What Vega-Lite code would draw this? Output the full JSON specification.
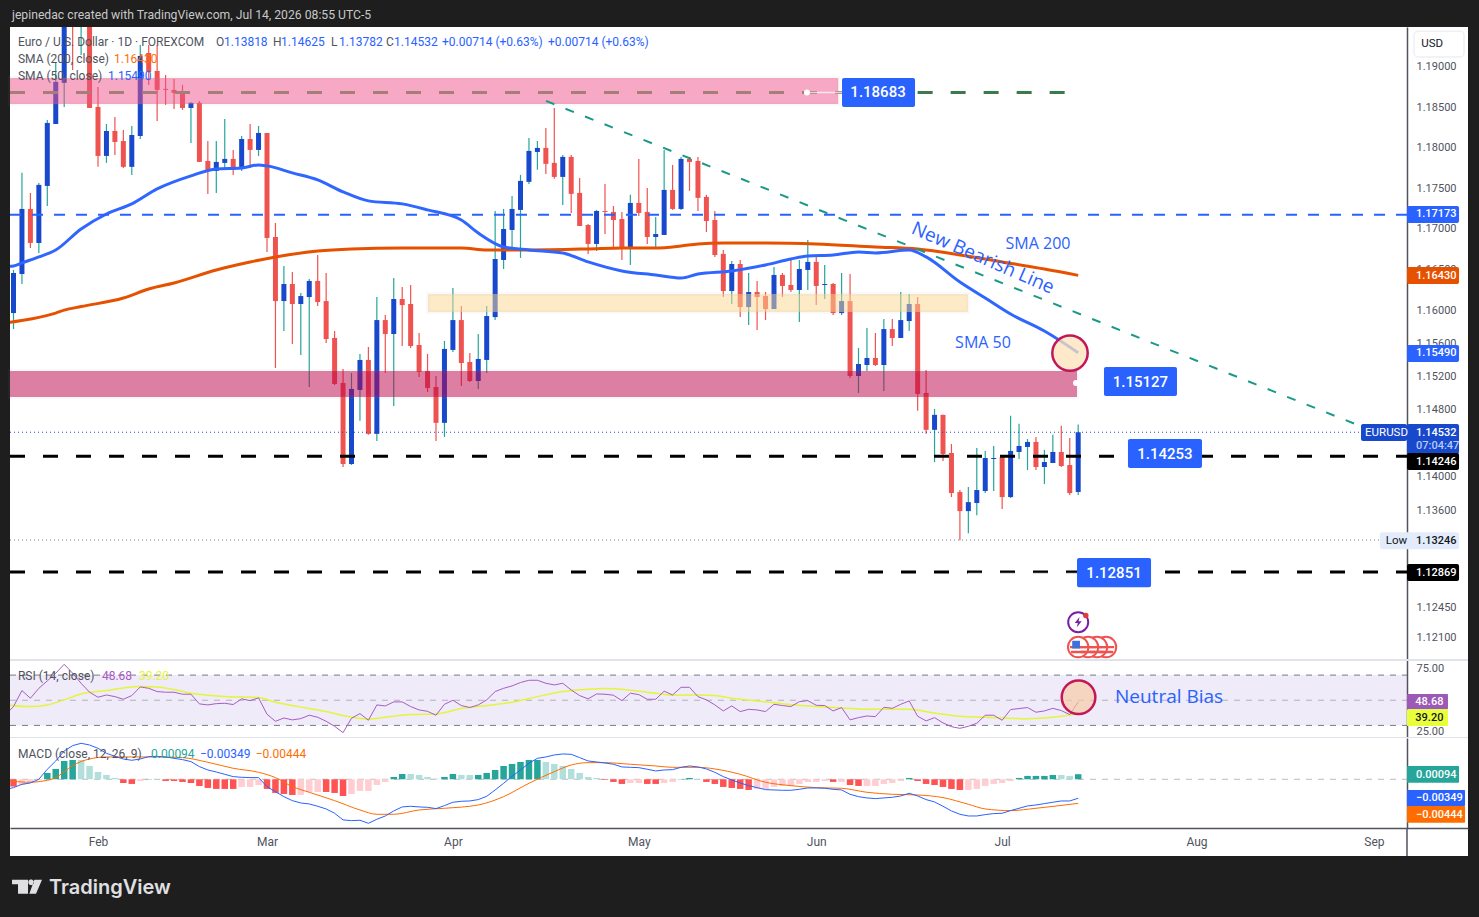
{
"$schema":"https://vega.github.io/schema/vega-lite/v6.json",
"background":"#1e1e1e",
"padding":{"left":8,"top":0,"right":13,"bottom":0},
"spacing":0,
"bounds":"flush",
"config":{"view":{"stroke":null},"concat":{"spacing":0},"text":{"font":"Roboto"}},
"datasets":{
"candles":[
{"bar":-10,"open":1.15971,"high":1.16496,"low":1.15777,"close":1.16459,"dir":"up"},
{"bar":-9,"open":1.16447,"high":1.17687,"low":1.16325,"close":1.17243,"dir":"up"},
{"bar":-8,"open":1.17243,"high":1.1744,"low":1.16765,"close":1.16826,"dir":"down"},
{"bar":-7,"open":1.16826,"high":1.17563,"low":1.16704,"close":1.17539,"dir":"up"},
{"bar":-6,"open":1.17526,"high":1.18341,"low":1.1728,"close":1.18304,"dir":"up"},
{"bar":-5,"open":1.18291,"high":1.1905,"low":1.18291,"close":1.18814,"dir":"up"},
{"bar":-4,"open":1.18801,"high":1.197,"low":1.18503,"close":1.19584,"dir":"up"},
{"bar":-3,"open":1.2,"high":1.2005,"low":1.18963,"close":1.196,"dir":"down"},
{"bar":-2,"open":1.196,"high":1.202,"low":1.19149,"close":1.2,"dir":"up"},
{"bar":-1,"open":1.2,"high":1.201,"low":1.1849,"close":1.1849,"dir":"down"},
{"bar":0,"open":1.18503,"high":1.18751,"low":1.17761,"close":1.17896,"dir":"down"},
{"bar":1,"open":1.17896,"high":1.18291,"low":1.1781,"close":1.18204,"dir":"up"},
{"bar":2,"open":1.18204,"high":1.18378,"low":1.17908,"close":1.18068,"dir":"down"},
{"bar":3,"open":1.1808,"high":1.18217,"low":1.17748,"close":1.17761,"dir":"down"},
{"bar":4,"open":1.17761,"high":1.18267,"low":1.17662,"close":1.18155,"dir":"up"},
{"bar":5,"open":1.18142,"high":1.19273,"low":1.18105,"close":1.19137,"dir":"up"},
{"bar":6,"open":1.19174,"high":1.19273,"low":1.18776,"close":1.18938,"dir":"down"},
{"bar":7,"open":1.1895,"high":1.19273,"low":1.18329,"close":1.18714,"dir":"down"},
{"bar":8,"open":1.18727,"high":1.18901,"low":1.18528,"close":1.18714,"dir":"down"},
{"bar":9,"open":1.18714,"high":1.18851,"low":1.18478,"close":1.18677,"dir":"down"},
{"bar":10,"open":1.18677,"high":1.18776,"low":1.18466,"close":1.1849,"dir":"down"},
{"bar":11,"open":1.1849,"high":1.18565,"low":1.18055,"close":1.18553,"dir":"up"},
{"bar":12,"open":1.18553,"high":1.18577,"low":1.17822,"close":1.17822,"dir":"down"},
{"bar":13,"open":1.17834,"high":1.1808,"low":1.17428,"close":1.17711,"dir":"down"},
{"bar":14,"open":1.17711,"high":1.1808,"low":1.1744,"close":1.17822,"dir":"up"},
{"bar":15,"open":1.1781,"high":1.18354,"low":1.17724,"close":1.17859,"dir":"up"},
{"bar":16,"open":1.17859,"high":1.1797,"low":1.17662,"close":1.17736,"dir":"down"},
{"bar":17,"open":1.17736,"high":1.18142,"low":1.17711,"close":1.18105,"dir":"up"},
{"bar":18,"open":1.18105,"high":1.18291,"low":1.17748,"close":1.1797,"dir":"down"},
{"bar":19,"open":1.1797,"high":1.18267,"low":1.17896,"close":1.1818,"dir":"up"},
{"bar":20,"open":1.1818,"high":1.1818,"low":1.16716,"close":1.16887,"dir":"down"},
{"bar":21,"open":1.16899,"high":1.17071,"low":1.15306,"close":1.16117,"dir":"down"},
{"bar":22,"open":1.16117,"high":1.16545,"low":1.15753,"close":1.16325,"dir":"up"},
{"bar":23,"open":1.16325,"high":1.16472,"low":1.15596,"close":1.16081,"dir":"down"},
{"bar":24,"open":1.16081,"high":1.16215,"low":1.15463,"close":1.16178,"dir":"up"},
{"bar":25,"open":1.16166,"high":1.16386,"low":1.15077,"close":1.16362,"dir":"up"},
{"bar":26,"open":1.16362,"high":1.16679,"low":1.16056,"close":1.16105,"dir":"down"},
{"bar":27,"open":1.16117,"high":1.16459,"low":1.15608,"close":1.15656,"dir":"down"},
{"bar":28,"open":1.15669,"high":1.15753,"low":1.15101,"close":1.15113,"dir":"down"},
{"bar":29,"open":1.15125,"high":1.15294,"low":1.14116,"close":1.14152,"dir":"down"},
{"bar":30,"open":1.14152,"high":1.15245,"low":1.1414,"close":1.15053,"dir":"up"},
{"bar":31,"open":1.15041,"high":1.15475,"low":1.14669,"close":1.15403,"dir":"up"},
{"bar":32,"open":1.15403,"high":1.1556,"low":1.14501,"close":1.14513,"dir":"down"},
{"bar":33,"open":1.14513,"high":1.16166,"low":1.14428,"close":1.15886,"dir":"up"},
{"bar":34,"open":1.15886,"high":1.15947,"low":1.15245,"close":1.15717,"dir":"down"},
{"bar":35,"open":1.15717,"high":1.16398,"low":1.14849,"close":1.16142,"dir":"up"},
{"bar":36,"open":1.16142,"high":1.16288,"low":1.15572,"close":1.16068,"dir":"down"},
{"bar":37,"open":1.16081,"high":1.16313,"low":1.15548,"close":1.15572,"dir":"down"},
{"bar":38,"open":1.15584,"high":1.15729,"low":1.15197,"close":1.15258,"dir":"down"},
{"bar":39,"open":1.1527,"high":1.15475,"low":1.15017,"close":1.15065,"dir":"down"},
{"bar":40,"open":1.15077,"high":1.15209,"low":1.14428,"close":1.14645,"dir":"down"},
{"bar":41,"open":1.14645,"high":1.15632,"low":1.14476,"close":1.15536,"dir":"up"},
{"bar":42,"open":1.15524,"high":1.16276,"low":1.15499,"close":1.15886,"dir":"up"},
{"bar":43,"open":1.15886,"high":1.16056,"low":1.15089,"close":1.15366,"dir":"down"},
{"bar":44,"open":1.15378,"high":1.15487,"low":1.15137,"close":1.15149,"dir":"down"},
{"bar":45,"open":1.15149,"high":1.15717,"low":1.15053,"close":1.15415,"dir":"up"},
{"bar":46,"open":1.15403,"high":1.16056,"low":1.15245,"close":1.15935,"dir":"up"},
{"bar":47,"open":1.15922,"high":1.17218,"low":1.15886,"close":1.1663,"dir":"up"},
{"bar":48,"open":1.16618,"high":1.17243,"low":1.16508,"close":1.16997,"dir":"up"},
{"bar":49,"open":1.16985,"high":1.17403,"low":1.16777,"close":1.17243,"dir":"up"},
{"bar":50,"open":1.17231,"high":1.17662,"low":1.16643,"close":1.17588,"dir":"up"},
{"bar":51,"open":1.17576,"high":1.18117,"low":1.17551,"close":1.17958,"dir":"up"},
{"bar":52,"open":1.17945,"high":1.1808,"low":1.17724,"close":1.17995,"dir":"up"},
{"bar":53,"open":1.17995,"high":1.18242,"low":1.17674,"close":1.17798,"dir":"down"},
{"bar":54,"open":1.1781,"high":1.1849,"low":1.17613,"close":1.17637,"dir":"down"},
{"bar":55,"open":1.17637,"high":1.17908,"low":1.17292,"close":1.17884,"dir":"up"},
{"bar":56,"open":1.17884,"high":1.17908,"low":1.17194,"close":1.17428,"dir":"down"},
{"bar":57,"open":1.1744,"high":1.17625,"low":1.17034,"close":1.17034,"dir":"down"},
{"bar":58,"open":1.17046,"high":1.17058,"low":1.16692,"close":1.16814,"dir":"down"},
{"bar":59,"open":1.16814,"high":1.17231,"low":1.16728,"close":1.17218,"dir":"up"},
{"bar":60,"open":1.17218,"high":1.17551,"low":1.16936,"close":1.17206,"dir":"down"},
{"bar":61,"open":1.17206,"high":1.1728,"low":1.16777,"close":1.17107,"dir":"down"},
{"bar":62,"open":1.1712,"high":1.17206,"low":1.16618,"close":1.16777,"dir":"down"},
{"bar":63,"open":1.16777,"high":1.17416,"low":1.16557,"close":1.17317,"dir":"up"},
{"bar":64,"open":1.17317,"high":1.17859,"low":1.17157,"close":1.17194,"dir":"down"},
{"bar":65,"open":1.17206,"high":1.17502,"low":1.16814,"close":1.16899,"dir":"down"},
{"bar":66,"open":1.16899,"high":1.17144,"low":1.16777,"close":1.16936,"dir":"up"},
{"bar":67,"open":1.16924,"high":1.1797,"low":1.16924,"close":1.17477,"dir":"up"},
{"bar":68,"open":1.17477,"high":1.17785,"low":1.17231,"close":1.17243,"dir":"down"},
{"bar":69,"open":1.17243,"high":1.17884,"low":1.17231,"close":1.17859,"dir":"up"},
{"bar":70,"open":1.17859,"high":1.17884,"low":1.17465,"close":1.17822,"dir":"down"},
{"bar":71,"open":1.17834,"high":1.17884,"low":1.17218,"close":1.17379,"dir":"down"},
{"bar":72,"open":1.17391,"high":1.17416,"low":1.1696,"close":1.17095,"dir":"down"},
{"bar":73,"open":1.17107,"high":1.17218,"low":1.16655,"close":1.16679,"dir":"down"},
{"bar":74,"open":1.16692,"high":1.1674,"low":1.16166,"close":1.16239,"dir":"down"},
{"bar":75,"open":1.16239,"high":1.16606,"low":1.16081,"close":1.16569,"dir":"up"},
{"bar":76,"open":1.16569,"high":1.16618,"low":1.15922,"close":1.16044,"dir":"down"},
{"bar":77,"open":1.16044,"high":1.16459,"low":1.15826,"close":1.16227,"dir":"up"},
{"bar":78,"open":1.16227,"high":1.16362,"low":1.15765,"close":1.16166,"dir":"down"},
{"bar":79,"open":1.16178,"high":1.16227,"low":1.15886,"close":1.1602,"dir":"down"},
{"bar":80,"open":1.1602,"high":1.16533,"low":1.1602,"close":1.16435,"dir":"up"},
{"bar":81,"open":1.16435,"high":1.16459,"low":1.16166,"close":1.16301,"dir":"down"},
{"bar":82,"open":1.16313,"high":1.16618,"low":1.16227,"close":1.16252,"dir":"down"},
{"bar":83,"open":1.16252,"high":1.16618,"low":1.15862,"close":1.16508,"dir":"up"},
{"bar":84,"open":1.16496,"high":1.16863,"low":1.16252,"close":1.16594,"dir":"up"},
{"bar":85,"open":1.16594,"high":1.16655,"low":1.16068,"close":1.16301,"dir":"down"},
{"bar":86,"open":1.16313,"high":1.16557,"low":1.16142,"close":1.16325,"dir":"up"},
{"bar":87,"open":1.16325,"high":1.16337,"low":1.15947,"close":1.15971,"dir":"down"},
{"bar":88,"open":1.15971,"high":1.16459,"low":1.15947,"close":1.16117,"dir":"up"},
{"bar":89,"open":1.16117,"high":1.16447,"low":1.15185,"close":1.15209,"dir":"down"},
{"bar":90,"open":1.15209,"high":1.15548,"low":1.15005,"close":1.15354,"dir":"up"},
{"bar":91,"open":1.15342,"high":1.15789,"low":1.1527,"close":1.15427,"dir":"up"},
{"bar":92,"open":1.15427,"high":1.15729,"low":1.1533,"close":1.15342,"dir":"down"},
{"bar":93,"open":1.15342,"high":1.15898,"low":1.15029,"close":1.15777,"dir":"up"},
{"bar":94,"open":1.15777,"high":1.15898,"low":1.15572,"close":1.15669,"dir":"down"},
{"bar":95,"open":1.15669,"high":1.16227,"low":1.15669,"close":1.15886,"dir":"up"},
{"bar":96,"open":1.15874,"high":1.16203,"low":1.15753,"close":1.16081,"dir":"up"},
{"bar":97,"open":1.16081,"high":1.16166,"low":1.14789,"close":1.14993,"dir":"down"},
{"bar":98,"open":1.15005,"high":1.15282,"low":1.14513,"close":1.14561,"dir":"down"},
{"bar":99,"open":1.14561,"high":1.14813,"low":1.14176,"close":1.14741,"dir":"up"},
{"bar":100,"open":1.14741,"high":1.14741,"low":1.14188,"close":1.14272,"dir":"down"},
{"bar":101,"open":1.14284,"high":1.14392,"low":1.13757,"close":1.13805,"dir":"down"},
{"bar":102,"open":1.13817,"high":1.13841,"low":1.13244,"close":1.1359,"dir":"down"},
{"bar":103,"open":1.1359,"high":1.13877,"low":1.13327,"close":1.13697,"dir":"up"},
{"bar":104,"open":1.13686,"high":1.14344,"low":1.13542,"close":1.13841,"dir":"up"},
{"bar":105,"open":1.13829,"high":1.14308,"low":1.13805,"close":1.14224,"dir":"up"},
{"bar":106,"open":1.14212,"high":1.14368,"low":1.13829,"close":1.14224,"dir":"up"},
{"bar":107,"open":1.14236,"high":1.14248,"low":1.13614,"close":1.13757,"dir":"down"},
{"bar":108,"open":1.13757,"high":1.14729,"low":1.13745,"close":1.14308,"dir":"up"},
{"bar":109,"open":1.14296,"high":1.14633,"low":1.14212,"close":1.14368,"dir":"up"},
{"bar":110,"open":1.14356,"high":1.14452,"low":1.1408,"close":1.14416,"dir":"up"},
{"bar":111,"open":1.14416,"high":1.14476,"low":1.1408,"close":1.14116,"dir":"down"},
{"bar":112,"open":1.14116,"high":1.1432,"low":1.13912,"close":1.14176,"dir":"up"},
{"bar":113,"open":1.14164,"high":1.14501,"low":1.14164,"close":1.14296,"dir":"up"},
{"bar":114,"open":1.14296,"high":1.14609,"low":1.14116,"close":1.14128,"dir":"down"},
{"bar":115,"open":1.1414,"high":1.14464,"low":1.13781,"close":1.13805,"dir":"down"},
{"bar":116,"open":1.13818,"high":1.14625,"low":1.13782,"close":1.14532,"dir":"up"}
],
"sma50":[{"bar":-11,"price":1.16539},{"bar":-10,"price":1.16545},{"bar":-9,"price":1.16582},{"bar":-7,"price":1.16655},{"bar":-5,"price":1.1674},{"bar":-2,"price":1.16997},{"bar":1,"price":1.17181},{"bar":4,"price":1.17305},{"bar":7,"price":1.17489},{"bar":11,"price":1.1765},{"bar":14,"price":1.17736},{"bar":17,"price":1.17748},{"bar":19,"price":1.17785},{"bar":20,"price":1.17773},{"bar":23,"price":1.17687},{"bar":26,"price":1.176},{"bar":29,"price":1.17453},{"bar":32,"price":1.17342},{"bar":36,"price":1.17305},{"bar":39,"price":1.17231},{"bar":43,"price":1.17107},{"bar":45,"price":1.16948},{"bar":48,"price":1.16777},{"bar":51,"price":1.1674},{"bar":55,"price":1.16704},{"bar":58,"price":1.16594},{"bar":62,"price":1.16484},{"bar":66,"price":1.16435},{"bar":69,"price":1.16398},{"bar":71,"price":1.16447},{"bar":75,"price":1.16484},{"bar":79,"price":1.16557},{"bar":82,"price":1.1663},{"bar":84,"price":1.16667},{"bar":87,"price":1.16679},{"bar":90,"price":1.16716},{"bar":92,"price":1.16704},{"bar":96,"price":1.1674},{"bar":98,"price":1.16655},{"bar":102,"price":1.16349},{"bar":105,"price":1.16154},{"bar":108,"price":1.15959},{"bar":112,"price":1.15753},{"bar":116,"price":1.1549}],
"sma200":[{"bar":-11,"price":1.1585},{"bar":-8,"price":1.15898},{"bar":-5,"price":1.15971},{"bar":-4,"price":1.16007},{"bar":-2,"price":1.1605},{"bar":3,"price":1.16154},{"bar":6,"price":1.16264},{"bar":9,"price":1.16337},{"bar":14,"price":1.16496},{"bar":18,"price":1.16594},{"bar":21,"price":1.16655},{"bar":26,"price":1.16728},{"bar":30,"price":1.16753},{"bar":36,"price":1.16765},{"bar":43,"price":1.16765},{"bar":46,"price":1.1674},{"bar":51,"price":1.1674},{"bar":58,"price":1.16753},{"bar":62,"price":1.16765},{"bar":66,"price":1.16765},{"bar":69,"price":1.16789},{"bar":71,"price":1.16814},{"bar":74,"price":1.16826},{"bar":79,"price":1.16826},{"bar":85,"price":1.16814},{"bar":92,"price":1.16777},{"bar":97,"price":1.16753},{"bar":102,"price":1.16679},{"bar":107,"price":1.16594},{"bar":112,"price":1.16508},{"bar":116,"price":1.1643}],
"zones":[
{"bar":-10.414,"bar2":87.6,"price":1.18863,"price2":1.18539,"zone":"supply"},
{"bar":39.05,"bar2":102.96,"price":1.16202,"price2":1.15983,"zone":"pivot"},
{"bar":-10.414,"bar2":115.86,"price":1.15268,"price2":1.14955,"zone":"support"}
],
"tags":[
{"bar":154.91,"bar2":161.07,"price":1.17279,"price2":1.1707,"series":"level"},
{"bar":154.91,"bar2":161.07,"price":1.16532,"price2":1.16325,"series":"sma200"},
{"bar":154.91,"bar2":161.07,"price":1.15584,"price2":1.15378,"series":"level"},
{"bar":154.91,"bar2":161.07,"price":1.1463,"price2":1.14272,"series":"last"},
{"bar":149.47,"bar2":154.91,"price":1.1463,"price2":1.14426,"series":"last"},
{"bar":154.91,"bar2":161.07,"price":1.14283,"price2":1.14079,"series":"black"},
{"bar":151.72,"bar2":161.07,"price":1.1334,"price2":1.13138,"series":"low"},
{"bar":154.91,"bar2":161.07,"price":1.12961,"price2":1.12761,"series":"black"},
{"bar":88.05,"bar2":96.69,"price":1.18863,"price2":1.18503,"series":"level"},
{"bar":119.05,"bar2":127.69,"price":1.15317,"price2":1.14967,"series":"level"},
{"bar":121.89,"bar2":130.65,"price":1.14451,"price2":1.14103,"series":"level"},
{"bar":115.86,"bar2":124.62,"price":1.13032,"price2":1.12688,"series":"level"}
],
"tagText":[
{"bar":155.98,"price":1.17181,"label":"1.17173","tone":"white"},
{"bar":155.98,"price":1.16428,"label":"1.16430","tone":"white"},
{"bar":155.98,"price":1.15487,"label":"1.15490","tone":"white"},
{"bar":155.98,"price":1.14525,"label":"1.14532","tone":"white"},
{"bar":155.98,"price":1.14367,"label":"07:04:47","tone":"pale"},
{"bar":155.98,"price":1.1418,"label":"1.14246","tone":"white"},
{"bar":155.98,"price":1.1324,"label":"1.13246","tone":"dark"},
{"bar":155.98,"price":1.1286,"label":"1.12869","tone":"white"}
],
"plainTagText":[
{"bar":149.95,"price":1.14525,"label":"EURUSD","tone":"white"},
{"bar":152.4,"price":1.1324,"label":"Low","tone":"dark"},
{"bar":156.6,"price":1.19286,"label":"USD","tone":"dark"}
],
"callouts":[
{"bar":92.31,"price":1.18682,"label":"1.18683"},
{"bar":123.37,"price":1.15142,"label":"1.15127"},
{"bar":126.27,"price":1.14277,"label":"1.14253"},
{"bar":120.24,"price":1.1286,"label":"1.12851"}
],
"legendText":[
{"bar":-9.47,"price":1.19312,"label":"Euro / U.S. Dollar · 1D · FOREXCOM","series":"gray"},
{"bar":13.96,"price":1.19312,"label":"O","series":"gray"},
{"bar":14.91,"price":1.19312,"label":"1.13818","series":"blue"},
{"bar":20.71,"price":1.19312,"label":"H","series":"gray"},
{"bar":21.66,"price":1.19312,"label":"1.14625","series":"blue"},
{"bar":27.57,"price":1.19312,"label":"L","series":"gray"},
{"bar":28.52,"price":1.19312,"label":"1.13782","series":"blue"},
{"bar":34.08,"price":1.19312,"label":"C","series":"gray"},
{"bar":35.03,"price":1.19312,"label":"1.14532","series":"blue"},
{"bar":40.71,"price":1.19312,"label":"+0.00714 (+0.63%)","series":"blue"},
{"bar":53.25,"price":1.19312,"label":"+0.00714 (+0.63%)","series":"blue"},
{"bar":-9.47,"price":1.191,"label":"SMA (200, close)","series":"gray"},
{"bar":1.89,"price":1.191,"label":"1.16430","series":"orange"},
{"bar":-9.47,"price":1.18888,"label":"SMA (50, close)","series":"gray"},
{"bar":1.18,"price":1.18888,"label":"1.15490","series":"blue"}
],
"notes":[
{"bar":111.24,"price":1.16813,"label":"SMA 200"},
{"bar":104.73,"price":1.15607,"label":"SMA 50"}
],
"rsi":[{"bar":-11,"rsi":38},{"bar":-10,"rsi":45},{"bar":-9,"rsi":57.7},{"bar":-8,"rsi":51.6},{"bar":-7,"rsi":59.5},{"bar":-6,"rsi":65.4},{"bar":-5,"rsi":71.5},{"bar":-4,"rsi":78.6},{"bar":-3,"rsi":71.5},{"bar":-2,"rsi":63.5},{"bar":-1,"rsi":56.4},{"bar":0,"rsi":52.4},{"bar":1,"rsi":54.2},{"bar":2,"rsi":52.9},{"bar":3,"rsi":50.8},{"bar":4,"rsi":53.7},{"bar":5,"rsi":60.6},{"bar":6,"rsi":59.5},{"bar":7,"rsi":56.9},{"bar":8,"rsi":56.4},{"bar":9,"rsi":56.4},{"bar":10,"rsi":54.8},{"bar":11,"rsi":54.8},{"bar":12,"rsi":47.1},{"bar":13,"rsi":46.3},{"bar":14,"rsi":47.3},{"bar":15,"rsi":47.6},{"bar":16,"rsi":46.6},{"bar":17,"rsi":51.1},{"bar":18,"rsi":49.7},{"bar":19,"rsi":51.9},{"bar":20,"rsi":38.9},{"bar":21,"rsi":33.3},{"bar":22,"rsi":35.9},{"bar":23,"rsi":34.4},{"bar":24,"rsi":35.4},{"bar":25,"rsi":38.1},{"bar":26,"rsi":36.5},{"bar":27,"rsi":33.3},{"bar":28,"rsi":29.3},{"bar":29,"rsi":24.3},{"bar":30,"rsi":35.7},{"bar":31,"rsi":39.4},{"bar":32,"rsi":34.1},{"bar":33,"rsi":46.3},{"bar":34,"rsi":45.5},{"bar":35,"rsi":48.7},{"bar":36,"rsi":48.7},{"bar":37,"rsi":45},{"bar":38,"rsi":42.3},{"bar":39,"rsi":41.2},{"bar":40,"rsi":38.1},{"bar":41,"rsi":46.8},{"bar":42,"rsi":50},{"bar":43,"rsi":45.8},{"bar":44,"rsi":44.2},{"bar":45,"rsi":46.3},{"bar":46,"rsi":50.3},{"bar":47,"rsi":56.9},{"bar":48,"rsi":59.5},{"bar":49,"rsi":61.4},{"bar":50,"rsi":64.1},{"bar":51,"rsi":65.9},{"bar":52,"rsi":65.9},{"bar":53,"rsi":63.5},{"bar":54,"rsi":62.2},{"bar":55,"rsi":63.5},{"bar":56,"rsi":58.2},{"bar":57,"rsi":53.7},{"bar":58,"rsi":51.1},{"bar":59,"rsi":55},{"bar":60,"rsi":54.8},{"bar":61,"rsi":54},{"bar":62,"rsi":49.7},{"bar":63,"rsi":55.6},{"bar":64,"rsi":54.5},{"bar":65,"rsi":50.8},{"bar":66,"rsi":50.8},{"bar":67,"rsi":57.2},{"bar":68,"rsi":54.2},{"bar":69,"rsi":60.3},{"bar":70,"rsi":60.3},{"bar":71,"rsi":52.9},{"bar":72,"rsi":50.3},{"bar":73,"rsi":46.3},{"bar":74,"rsi":41.5},{"bar":75,"rsi":45.5},{"bar":76,"rsi":41},{"bar":77,"rsi":42.8},{"bar":78,"rsi":42.3},{"bar":79,"rsi":41},{"bar":80,"rsi":46.8},{"bar":81,"rsi":45.8},{"bar":82,"rsi":45},{"bar":83,"rsi":48.9},{"bar":84,"rsi":49.7},{"bar":85,"rsi":46},{"bar":86,"rsi":45.8},{"bar":87,"rsi":41.5},{"bar":88,"rsi":44.2},{"bar":89,"rsi":34.4},{"bar":90,"rsi":36.2},{"bar":91,"rsi":37.5},{"bar":92,"rsi":37},{"bar":93,"rsi":44.4},{"bar":94,"rsi":43.6},{"bar":95,"rsi":46.8},{"bar":96,"rsi":49.5},{"bar":97,"rsi":37.3},{"bar":98,"rsi":33.6},{"bar":99,"rsi":36.2},{"bar":100,"rsi":32},{"bar":101,"rsi":29},{"bar":102,"rsi":27.7},{"bar":103,"rsi":29.3},{"bar":104,"rsi":31.7},{"bar":105,"rsi":38.1},{"bar":106,"rsi":38.1},{"bar":107,"rsi":34.1},{"bar":108,"rsi":42.6},{"bar":109,"rsi":43.4},{"bar":110,"rsi":44.2},{"bar":111,"rsi":40.5},{"bar":112,"rsi":41.5},{"bar":113,"rsi":43.6},{"bar":114,"rsi":41.8},{"bar":115,"rsi":38.6},{"bar":116,"rsi":48.68}],
"rsiMa":[{"bar":-11,"rsi":46.3},{"bar":-8,"rsi":45},{"bar":-6,"rsi":46.3},{"bar":-4,"rsi":50.3},{"bar":-2,"rsi":55},{"bar":1,"rsi":57.7},{"bar":3,"rsi":59.8},{"bar":5,"rsi":60.9},{"bar":7,"rsi":60.6},{"bar":9,"rsi":58.5},{"bar":11,"rsi":55.6},{"bar":13,"rsi":54},{"bar":15,"rsi":52.9},{"bar":19,"rsi":52.1},{"bar":21,"rsi":48.4},{"bar":23,"rsi":45.8},{"bar":25,"rsi":43.4},{"bar":27,"rsi":41},{"bar":29,"rsi":37.8},{"bar":32,"rsi":35.1},{"bar":34,"rsi":36.5},{"bar":37,"rsi":38.6},{"bar":40,"rsi":39.1},{"bar":43,"rsi":43.4},{"bar":46,"rsi":45.8},{"bar":49,"rsi":48.4},{"bar":52,"rsi":52.9},{"bar":55,"rsi":56.9},{"bar":58,"rsi":58.8},{"bar":60,"rsi":59.3},{"bar":63,"rsi":58},{"bar":66,"rsi":55.6},{"bar":68,"rsi":54},{"bar":71,"rsi":54.2},{"bar":73,"rsi":53.7},{"bar":75,"rsi":51.6},{"bar":78,"rsi":49.5},{"bar":81,"rsi":47.3},{"bar":85,"rsi":45},{"bar":88,"rsi":43.9},{"bar":91,"rsi":42.8},{"bar":96,"rsi":42.8},{"bar":99,"rsi":39.9},{"bar":102,"rsi":37.3},{"bar":105,"rsi":36.5},{"bar":110,"rsi":35.4},{"bar":113,"rsi":36.5},{"bar":116,"rsi":39.2}],
"rsiBands":[{"bar":-10.414,"bar2":154.91,"rsi":70,"rsi2":30}],
"rsiLevels":[{"bar":-10.414,"bar2":154.91,"rsi":70},{"bar":-10.414,"bar2":154.91,"rsi":30}],
"rsiMid":[{"bar":-10.414,"bar2":154.91,"rsi":50}],
"rsiEdges":[{"bar":-10.414,"bar2":162.13,"rsi":82},{"bar":-10.414,"bar2":162.13,"rsi":20}],
"rsiTags":[
{"bar":154.91,"bar2":159.76,"rsi":55,"rsi2":42.85,"series":"rsi"},
{"bar":154.91,"bar2":159.76,"rsi":42.85,"rsi2":29.6,"series":"ma"}
],
"rsiTagText":[
{"bar":155.9,"rsi":48.6,"label":"48.68","series":"rsi"},
{"bar":155.9,"rsi":36,"label":"39.20","series":"ma"}
],
"rsiText":[
{"bar":-9.47,"rsi":69.6,"label":"RSI (14, close)","series":"gray"},
{"bar":0.47,"rsi":69.6,"label":"48.68","series":"rsi"},
{"bar":4.84,"rsi":69.6,"label":"39.20","series":"ma"}
],
"macd":[
{"bar":-10,"hist":-0.00135,"state":"fallingBelow"},{"bar":-9,"hist":-0.00105,"state":"risingBelow"},{"bar":-8,"hist":-0.00055,"state":"risingBelow"},{"bar":-7,"hist":-0.00012,"state":"risingBelow"},{"bar":-6,"hist":0.00117,"state":"risingAbove"},{"bar":-5,"hist":0.00191,"state":"risingAbove"},{"bar":-4,"hist":0.00338,"state":"risingAbove"},{"bar":-3,"hist":0.00357,"state":"risingAbove"},{"bar":-2,"hist":0.00357,"state":"fallingAbove"},{"bar":-1,"hist":0.00246,"state":"fallingAbove"},{"bar":0,"hist":0.00135,"state":"fallingAbove"},{"bar":1,"hist":0.0008,"state":"fallingAbove"},{"bar":2,"hist":0.00025,"state":"fallingAbove"},{"bar":3,"hist":-0.00068,"state":"fallingBelow"},{"bar":4,"hist":-0.00086,"state":"fallingBelow"},{"bar":5,"hist":-0.00031,"state":"risingBelow"},{"bar":6,"hist":0.00006,"state":"risingAbove"},{"bar":7,"hist":0.00003,"state":"fallingAbove"},{"bar":8,"hist":-0.00031,"state":"fallingBelow"},{"bar":9,"hist":-0.00031,"state":"fallingBelow"},{"bar":10,"hist":-0.00049,"state":"fallingBelow"},{"bar":11,"hist":-0.00068,"state":"fallingBelow"},{"bar":12,"hist":-0.00123,"state":"fallingBelow"},{"bar":13,"hist":-0.0016,"state":"fallingBelow"},{"bar":14,"hist":-0.00178,"state":"fallingBelow"},{"bar":15,"hist":-0.00178,"state":"fallingBelow"},{"bar":16,"hist":-0.00178,"state":"fallingBelow"},{"bar":17,"hist":-0.00141,"state":"risingBelow"},{"bar":18,"hist":-0.00141,"state":"risingBelow"},{"bar":19,"hist":-0.00105,"state":"risingBelow"},{"bar":20,"hist":-0.00178,"state":"fallingBelow"},{"bar":21,"hist":-0.00252,"state":"fallingBelow"},{"bar":22,"hist":-0.00271,"state":"fallingBelow"},{"bar":23,"hist":-0.00289,"state":"fallingBelow"},{"bar":24,"hist":-0.00289,"state":"risingBelow"},{"bar":25,"hist":-0.00234,"state":"risingBelow"},{"bar":26,"hist":-0.00234,"state":"risingBelow"},{"bar":27,"hist":-0.00234,"state":"fallingBelow"},{"bar":28,"hist":-0.00252,"state":"fallingBelow"},{"bar":29,"hist":-0.00308,"state":"fallingBelow"},{"bar":30,"hist":-0.00271,"state":"risingBelow"},{"bar":31,"hist":-0.00215,"state":"risingBelow"},{"bar":32,"hist":-0.00215,"state":"risingBelow"},{"bar":33,"hist":-0.00105,"state":"risingBelow"},{"bar":34,"hist":-0.00049,"state":"risingBelow"},{"bar":35,"hist":0.00043,"state":"risingAbove"},{"bar":36,"hist":0.00098,"state":"risingAbove"},{"bar":37,"hist":0.00098,"state":"fallingAbove"},{"bar":38,"hist":0.0008,"state":"fallingAbove"},{"bar":39,"hist":0.00043,"state":"fallingAbove"},{"bar":40,"hist":0.00012,"state":"fallingAbove"},{"bar":41,"hist":0.00043,"state":"risingAbove"},{"bar":42,"hist":0.00098,"state":"risingAbove"},{"bar":43,"hist":0.0008,"state":"fallingAbove"},{"bar":44,"hist":0.0008,"state":"fallingAbove"},{"bar":45,"hist":0.0008,"state":"risingAbove"},{"bar":46,"hist":0.00117,"state":"risingAbove"},{"bar":47,"hist":0.00172,"state":"risingAbove"},{"bar":48,"hist":0.00246,"state":"risingAbove"},{"bar":49,"hist":0.00283,"state":"risingAbove"},{"bar":50,"hist":0.0032,"state":"risingAbove"},{"bar":51,"hist":0.00357,"state":"risingAbove"},{"bar":52,"hist":0.00357,"state":"risingAbove"},{"bar":53,"hist":0.0032,"state":"fallingAbove"},{"bar":54,"hist":0.00283,"state":"fallingAbove"},{"bar":55,"hist":0.00246,"state":"fallingAbove"},{"bar":56,"hist":0.00191,"state":"fallingAbove"},{"bar":57,"hist":0.00117,"state":"fallingAbove"},{"bar":58,"hist":0.00043,"state":"fallingAbove"},{"bar":59,"hist":0.00025,"state":"fallingAbove"},{"bar":60,"hist":-0.00012,"state":"fallingBelow"},{"bar":61,"hist":-0.00049,"state":"fallingBelow"},{"bar":62,"hist":-0.00086,"state":"fallingBelow"},{"bar":63,"hist":-0.00068,"state":"risingBelow"},{"bar":64,"hist":-0.00068,"state":"risingBelow"},{"bar":65,"hist":-0.00086,"state":"fallingBelow"},{"bar":66,"hist":-0.00086,"state":"fallingBelow"},{"bar":67,"hist":-0.00068,"state":"risingBelow"},{"bar":68,"hist":-0.00049,"state":"risingBelow"},{"bar":69,"hist":0.00006,"state":"risingAbove"},{"bar":70,"hist":0.00025,"state":"risingAbove"},{"bar":71,"hist":0.00006,"state":"fallingAbove"},{"bar":72,"hist":-0.00049,"state":"fallingBelow"},{"bar":73,"hist":-0.00086,"state":"fallingBelow"},{"bar":74,"hist":-0.00141,"state":"fallingBelow"},{"bar":75,"hist":-0.0016,"state":"fallingBelow"},{"bar":76,"hist":-0.00178,"state":"fallingBelow"},{"bar":77,"hist":-0.00197,"state":"fallingBelow"},{"bar":78,"hist":-0.00178,"state":"risingBelow"},{"bar":79,"hist":-0.00178,"state":"risingBelow"},{"bar":80,"hist":-0.00141,"state":"risingBelow"},{"bar":81,"hist":-0.00123,"state":"risingBelow"},{"bar":82,"hist":-0.00123,"state":"risingBelow"},{"bar":83,"hist":-0.00086,"state":"risingBelow"},{"bar":84,"hist":-0.00049,"state":"risingBelow"},{"bar":85,"hist":-0.00049,"state":"risingBelow"},{"bar":86,"hist":-0.00031,"state":"risingBelow"},{"bar":87,"hist":-0.00049,"state":"fallingBelow"},{"bar":88,"hist":-0.00049,"state":"risingBelow"},{"bar":89,"hist":-0.00105,"state":"fallingBelow"},{"bar":90,"hist":-0.00123,"state":"fallingBelow"},{"bar":91,"hist":-0.00123,"state":"risingBelow"},{"bar":92,"hist":-0.00123,"state":"risingBelow"},{"bar":93,"hist":-0.00086,"state":"risingBelow"},{"bar":94,"hist":-0.00068,"state":"risingBelow"},{"bar":95,"hist":-0.00031,"state":"risingBelow"},{"bar":96,"hist":0.00025,"state":"risingAbove"},{"bar":97,"hist":-0.00031,"state":"fallingBelow"},{"bar":98,"hist":-0.00086,"state":"fallingBelow"},{"bar":99,"hist":-0.00105,"state":"fallingBelow"},{"bar":100,"hist":-0.00141,"state":"fallingBelow"},{"bar":101,"hist":-0.00178,"state":"fallingBelow"},{"bar":102,"hist":-0.00197,"state":"fallingBelow"},{"bar":103,"hist":-0.00197,"state":"risingBelow"},{"bar":104,"hist":-0.00178,"state":"risingBelow"},{"bar":105,"hist":-0.00123,"state":"risingBelow"},{"bar":106,"hist":-0.00086,"state":"risingBelow"},{"bar":107,"hist":-0.00068,"state":"risingBelow"},{"bar":108,"hist":-0.00031,"state":"risingBelow"},{"bar":109,"hist":0.00025,"state":"risingAbove"},{"bar":110,"hist":0.00062,"state":"risingAbove"},{"bar":111,"hist":0.00062,"state":"risingAbove"},{"bar":112,"hist":0.00062,"state":"risingAbove"},{"bar":113,"hist":0.0008,"state":"risingAbove"},{"bar":114,"hist":0.0008,"state":"fallingAbove"},{"bar":115,"hist":0.00062,"state":"fallingAbove"},{"bar":116,"hist":0.00094,"state":"risingAbove"}
],
"macdLine":[{"bar":-11,"macd":-0.00191},{"bar":-10,"macd":-0.00154},{"bar":-9,"macd":-0.00092},{"bar":-8,"macd":-0.00068},{"bar":-7,"macd":0},{"bar":-6,"macd":0.00185},{"bar":-5,"macd":0.00338},{"bar":-4,"macd":0.00523},{"bar":-3,"macd":0.00621},{"bar":-2,"macd":0.00664},{"bar":-1,"macd":0.00633},{"bar":0,"macd":0.00572},{"bar":1,"macd":0.0048},{"bar":2,"macd":0.00424},{"bar":3,"macd":0.00375},{"bar":4,"macd":0.00351},{"bar":5,"macd":0.00375},{"bar":6,"macd":0.00418},{"bar":7,"macd":0.00424},{"bar":8,"macd":0.00412},{"bar":9,"macd":0.00387},{"bar":10,"macd":0.00363},{"bar":11,"macd":0.00326},{"bar":12,"macd":0.00234},{"bar":13,"macd":0.00172},{"bar":14,"macd":0.00135},{"bar":15,"macd":0.00092},{"bar":16,"macd":0.00049},{"bar":17,"macd":0.00037},{"bar":18,"macd":0.00031},{"bar":19,"macd":0.00031},{"bar":20,"macd":-0.00135},{"bar":21,"macd":-0.00228},{"bar":22,"macd":-0.0032},{"bar":23,"macd":-0.00394},{"bar":24,"macd":-0.00437},{"bar":25,"macd":-0.00455},{"bar":26,"macd":-0.00498},{"bar":27,"macd":-0.00547},{"bar":28,"macd":-0.00627},{"bar":29,"macd":-0.0075},{"bar":30,"macd":-0.00763},{"bar":31,"macd":-0.00756},{"bar":32,"macd":-0.00812},{"bar":33,"macd":-0.00738},{"bar":34,"macd":-0.00677},{"bar":35,"macd":-0.00584},{"bar":36,"macd":-0.0051},{"bar":37,"macd":-0.00498},{"bar":38,"macd":-0.0051},{"bar":39,"macd":-0.00517},{"bar":40,"macd":-0.00541},{"bar":41,"macd":-0.00486},{"bar":42,"macd":-0.00424},{"bar":43,"macd":-0.00406},{"bar":44,"macd":-0.004},{"bar":45,"macd":-0.00375},{"bar":46,"macd":-0.00314},{"bar":47,"macd":-0.00197},{"bar":48,"macd":-0.00074},{"bar":49,"macd":0.00055},{"bar":50,"macd":0.00172},{"bar":51,"macd":0.00295},{"bar":52,"macd":0.00387},{"bar":53,"macd":0.00412},{"bar":54,"macd":0.00449},{"bar":55,"macd":0.00467},{"bar":56,"macd":0.00461},{"bar":57,"macd":0.004},{"bar":58,"macd":0.00338},{"bar":59,"macd":0.0032},{"bar":60,"macd":0.00301},{"bar":61,"macd":0.00277},{"bar":62,"macd":0.00228},{"bar":63,"macd":0.00221},{"bar":64,"macd":0.00215},{"bar":65,"macd":0.00185},{"bar":66,"macd":0.00154},{"bar":67,"macd":0.00172},{"bar":68,"macd":0.00178},{"bar":69,"macd":0.00221},{"bar":70,"macd":0.00246},{"bar":71,"macd":0.00228},{"bar":72,"macd":0.00191},{"bar":73,"macd":0.00129},{"bar":74,"macd":0.00049},{"bar":75,"macd":-0.00012},{"bar":76,"macd":-0.00068},{"bar":77,"macd":-0.00117},{"bar":78,"macd":-0.00154},{"bar":79,"macd":-0.00191},{"bar":80,"macd":-0.00197},{"bar":81,"macd":-0.00203},{"bar":82,"macd":-0.00203},{"bar":83,"macd":-0.00185},{"bar":84,"macd":-0.0016},{"bar":85,"macd":-0.0016},{"bar":86,"macd":-0.00166},{"bar":87,"macd":-0.00185},{"bar":88,"macd":-0.00197},{"bar":89,"macd":-0.00277},{"bar":90,"macd":-0.0032},{"bar":91,"macd":-0.00344},{"bar":92,"macd":-0.00357},{"bar":93,"macd":-0.00344},{"bar":94,"macd":-0.00332},{"bar":95,"macd":-0.00308},{"bar":96,"macd":-0.00258},{"bar":97,"macd":-0.00308},{"bar":98,"macd":-0.00375},{"bar":99,"macd":-0.00418},{"bar":100,"macd":-0.00498},{"bar":101,"macd":-0.00584},{"bar":102,"macd":-0.00646},{"bar":103,"macd":-0.00677},{"bar":104,"macd":-0.00677},{"bar":105,"macd":-0.00652},{"bar":106,"macd":-0.00633},{"bar":107,"macd":-0.00627},{"bar":108,"macd":-0.00578},{"bar":109,"macd":-0.00535},{"bar":110,"macd":-0.00492},{"bar":111,"macd":-0.00474},{"bar":112,"macd":-0.00449},{"bar":113,"macd":-0.00424},{"bar":114,"macd":-0.004},{"bar":115,"macd":-0.004},{"bar":116,"macd":-0.00349}],
"macdSignal":[{"bar":-11,"macd":-0.00018},{"bar":-8,"macd":-0.00055},{"bar":-7,"macd":-0.00043},{"bar":-5,"macd":0.00031},{"bar":-4,"macd":0.00141},{"bar":-3,"macd":0.00252},{"bar":-1,"macd":0.00375},{"bar":1,"macd":0.00412},{"bar":4,"macd":0.00412},{"bar":7,"macd":0.00412},{"bar":10,"macd":0.004},{"bar":13,"macd":0.00314},{"bar":16,"macd":0.00203},{"bar":19,"macd":0.00129},{"bar":21,"macd":0.00031},{"bar":23,"macd":-0.00135},{"bar":25,"macd":-0.0024},{"bar":28,"macd":-0.00394},{"bar":31,"macd":-0.00566},{"bar":33,"macd":-0.00646},{"bar":35,"macd":-0.00646},{"bar":38,"macd":-0.00566},{"bar":41,"macd":-0.00535},{"bar":45,"macd":-0.00474},{"bar":48,"macd":-0.0032},{"bar":51,"macd":-0.00074},{"bar":54,"macd":0.00141},{"bar":56,"macd":0.00264},{"bar":58,"macd":0.00307},{"bar":60,"macd":0.00307},{"bar":63,"macd":0.00277},{"bar":66,"macd":0.00246},{"bar":68,"macd":0.00221},{"bar":71,"macd":0.00221},{"bar":73,"macd":0.00191},{"bar":76,"macd":0.00092},{"bar":79,"macd":-0.00055},{"bar":82,"macd":-0.00117},{"bar":85,"macd":-0.00154},{"bar":88,"macd":-0.00166},{"bar":91,"macd":-0.0024},{"bar":94,"macd":-0.00277},{"bar":97,"macd":-0.00289},{"bar":100,"macd":-0.00338},{"bar":103,"macd":-0.00461},{"bar":105,"macd":-0.00547},{"bar":108,"macd":-0.00578},{"bar":111,"macd":-0.00535},{"bar":116,"macd":-0.00444}],
"macdTags":[
{"bar":154.91,"bar2":161.07,"macd":0.00245,"macd2":-0.00063,"series":"hist"},
{"bar":154.91,"bar2":161.78,"macd":-0.00197,"macd2":-0.00493,"series":"macd"},
{"bar":154.91,"bar2":161.78,"macd":-0.00493,"macd2":-0.00801,"series":"signal"}
],
"macdTagText":[
{"bar":155.98,"macd":0.00079,"label":"0.00094"},
{"bar":155.98,"macd":-0.00345,"label":"−0.00349"},
{"bar":155.98,"macd":-0.00659,"label":"−0.00444"}
],
"macdText":[
{"bar":-9.47,"macd":0.00471,"label":"MACD (close, 12, 26, 9)","series":"gray"},
{"bar":6.27,"macd":0.00471,"label":"0.00094","series":"hist"},
{"bar":12.07,"macd":0.00471,"label":"−0.00349","series":"macd"},
{"bar":18.67,"macd":0.00471,"label":"−0.00444","series":"signal"}
]
},
"vconcat":[
{
"width":1458,"height":27,
"data":{"values":[{"bar":-10.18,"row":14.5,"label":"jepinedac created with TradingView.com, Jul 14, 2026 08:55 UTC-5"}]},
"mark":{"type":"text","align":"left","baseline":"middle","fontSize":12.2,"font":"Roboto","color":"#c8c8c8"},
"encoding":{
"x":{"field":"bar","type":"quantitative","scale":{"domain":[-10.414,162.13],"nice":false,"zero":false},"axis":null},
"y":{"field":"row","type":"quantitative","scale":{"domain":[27,0],"nice":false,"zero":false},"axis":null},
"text":{"field":"label"}
}
},
{
"width":1458,"height":633,
"view":{"fill":"#ffffff"},
"resolve":{"scale":{"color":"independent"}},
"encoding":{
"x":{"field":"bar","type":"quantitative","scale":{"domain":[-10.414,162.13],"nice":false,"zero":false},"axis":null},
"y":{"field":"price","type":"quantitative","scale":{"type":"log","domain":[1.11832,1.19499],"nice":false,"zero":false},
"axis":{"orient":"right","offset":-61,"title":null,"grid":false,"ticks":false,"domainColor":"#50535e","domainWidth":1.5,"labelColor":"#50535e","labelFont":"Roboto","labelFontSize":11,"labelPadding":9,"labelOverlap":false,"labelFlush":false,"format":".5f","values":[1.19,1.185,1.18,1.175,1.17,1.165,1.16,1.156,1.152,1.148,1.14,1.136,1.1285,1.1245,1.121]}}
},
"layer":[
{"data":{"values":[{"bar":97,"bar2":115.74,"price":1.18683}]},
"mark":{"type":"rule","strokeDash":[15,18],"strokeWidth":3,"color":"#3d7a4a"},"encoding":{"x2":{"field":"bar2"}}},
{"data":{"name":"candles"},"mark":{"type":"rule","strokeWidth":1.2,"clip":true},
"encoding":{"y":{"field":"low","type":"quantitative","axis":{"orient":"right","offset":-61,"title":null,"grid":false,"ticks":false,"domainColor":"#50535e","domainWidth":1.5,"labelColor":"#50535e","labelFont":"Roboto","labelFontSize":11,"labelPadding":9,"labelOverlap":false,"labelFlush":false,"format":".5f","values":[1.19,1.185,1.18,1.175,1.17,1.165,1.16,1.156,1.152,1.148,1.14,1.136,1.1285,1.1245,1.121]}},"y2":{"field":"high"},
"color":{"field":"dir","type":"nominal","legend":null,"scale":{"domain":["up","down"],"range":["#26a69a","#ef5350"]}}}},
{"data":{"name":"candles"},"mark":{"type":"rule","strokeWidth":5,"clip":true},
"encoding":{"y":{"field":"open","type":"quantitative","axis":{"orient":"right","offset":-61,"title":null,"grid":false,"ticks":false,"domainColor":"#50535e","domainWidth":1.5,"labelColor":"#50535e","labelFont":"Roboto","labelFontSize":11,"labelPadding":9,"labelOverlap":false,"labelFlush":false,"format":".5f","values":[1.19,1.185,1.18,1.175,1.17,1.165,1.16,1.156,1.152,1.148,1.14,1.136,1.1285,1.1245,1.121]}},"y2":{"field":"close"},
"color":{"field":"dir","type":"nominal","legend":null,"scale":{"domain":["up","down"],"range":["#1848cc","#ef5350"]}}}},
{"data":{"name":"zones"},"mark":{"type":"rect","fillOpacity":0.5,"stroke":"#9598a1","strokeOpacity":0.06,"strokeWidth":4},
"encoding":{"x2":{"field":"bar2"},"y2":{"field":"price2"},
"color":{"field":"zone","type":"nominal","legend":null,"scale":{"domain":["supply","pivot","support"],"range":["#ef5189","#fbd791","#bb0047"]}}}},
{"data":{"values":[{"bar":-10.414,"bar2":88.05,"price":1.18683}]},
"mark":{"type":"rule","strokeDash":[15,18],"strokeWidth":3,"color":"#a67e78"},"encoding":{"x2":{"field":"bar2"}}},
{"data":{"name":"sma200"},"mark":{"type":"line","color":"#e65100","strokeWidth":3,"interpolate":"monotone","clip":true}},
{"data":{"name":"sma50"},"mark":{"type":"line","color":"#2f66ff","strokeWidth":3,"interpolate":"monotone","clip":true}},
{"data":{"values":[{"bar":53.02,"bar2":149.11,"price":1.18577,"price2":1.14618}]},
"mark":{"type":"rule","color":"#1a9a86","strokeWidth":2,"strokeDash":[9,12]},"encoding":{"x2":{"field":"bar2"},"y2":{"field":"price2"}}},
{"data":{"values":[{"bar":-10.414,"bar2":154.91,"price":1.17173}]},
"mark":{"type":"rule","color":"#2962ff","strokeWidth":2,"strokeDash":[11,11]},"encoding":{"x2":{"field":"bar2"}}},
{"data":{"values":[{"bar":-10.414,"bar2":154.91,"price":1.14532}]},
"mark":{"type":"rule","color":"#1848cc","strokeWidth":1,"strokeDash":[1,3]},"encoding":{"x2":{"field":"bar2"}}},
{"data":{"values":[{"bar":-10.414,"bar2":154.91,"price":1.13246}]},
"mark":{"type":"rule","color":"#787b86","strokeWidth":1,"strokeDash":[1,3]},"encoding":{"x2":{"field":"bar2"}}},
{"data":{"values":[{"bar":-10.414,"bar2":154.91,"price":1.14246},{"bar":-10.414,"bar2":154.91,"price":1.12869}]},
"mark":{"type":"rule","color":"#000000","strokeWidth":3,"strokeDash":[15,18]},"encoding":{"x2":{"field":"bar2"}}},
{"data":{"values":[{"bar":83.9,"bar2":88.05,"price":1.18683},{"bar":102.96,"bar2":115.86,"price":1.12851}]},
"mark":{"type":"rule","color":"#ffffff","strokeWidth":1.5,"opacity":0.7},"encoding":{"x2":{"field":"bar2"}}},
{"data":{"values":[{"bar":83.9,"price":1.18683},{"bar":115.74,"price":1.15124}]},
"mark":{"type":"point","filled":true,"color":"#ffffff","size":36,"opacity":1}},
{"data":{"values":[{"bar":115.03,"price":1.15486}]},
"mark":{"type":"point","shape":"circle","filled":true,"size":1253,"fill":"#fde3b8","fillOpacity":0.75,"stroke":"#c2185b","strokeWidth":2.5,"opacity":1}},
{"data":{"values":[{"bar":155.74,"bar2":161.66,"price":1.19447,"price2":1.19124}]},
"mark":{"type":"rect","fill":"#ffffff","stroke":"#eef0f5","strokeWidth":1.5,"cornerRadius":4},"encoding":{"x2":{"field":"bar2"},"y2":{"field":"price2"}}},
{"data":{"name":"tags"},"mark":{"type":"rect","cornerRadius":2},
"encoding":{"x2":{"field":"bar2"},"y2":{"field":"price2"},
"color":{"field":"series","type":"nominal","legend":null,"scale":{"domain":["level","sma200","last","black","low"],"range":["#2962ff","#e65100","#1848cc","#000000","#e3ecfb"]}}}},
{"data":{"name":"tagText"},"mark":{"type":"text","align":"left","baseline":"middle","fontSize":11,"fontWeight":500,"font":"Roboto"},
"encoding":{"text":{"field":"label"},
"color":{"field":"tone","type":"nominal","legend":null,"scale":{"domain":["white","pale","dark"],"range":["#ffffff","#b9ccf5","#131722"]}}}},
{"data":{"name":"plainTagText"},"mark":{"type":"text","align":"left","baseline":"middle","fontSize":11.5,"font":"Roboto"},
"encoding":{"text":{"field":"label"},
"color":{"field":"tone","type":"nominal","legend":null,"scale":{"domain":["white","dark"],"range":["#ffffff","#131722"]}}}},
{"data":{"name":"callouts"},"mark":{"type":"text","align":"center","baseline":"middle","fontSize":15,"fontWeight":500,"font":"Roboto","color":"#ffffff"},"encoding":{"text":{"field":"label"}}},
{"data":{"name":"notes"},"mark":{"type":"text","align":"center","baseline":"middle","fontSize":16,"font":"Open Sans","color":"#2962ff"},"encoding":{"text":{"field":"label"}}},
{"data":{"values":[{"bar":104.73,"price":1.16642,"label":"New Bearish Line"}]},
"mark":{"type":"text","align":"center","baseline":"middle","fontSize":19,"font":"Open Sans","color":"#2962ff","angle":23.5},"encoding":{"text":{"field":"label"}}},
{"data":{"name":"legendText"},"mark":{"type":"text","align":"left","baseline":"middle","fontSize":12,"font":"Roboto"},
"encoding":{"text":{"field":"label"},
"color":{"field":"series","type":"nominal","legend":null,"scale":{"domain":["gray","blue","orange"],"range":["#50535e","#2962ff","#ff6d00"]}}}},
{"data":{"values":[{"bar":116,"price":1.12276}]},
"mark":{"type":"point","shape":"circle","filled":false,"size":400,"stroke":"#7b1fa2","strokeWidth":2,"opacity":1}},
{"data":{"values":[{"bar":116,"price":1.12276}]},
"mark":{"type":"point","shape":"M0.15,-0.6L-0.4,0.1L-0.05,0.1L-0.15,0.6L0.4,-0.1L0.05,-0.1Z","filled":true,"size":300,"color":"#7b1fa2","opacity":1}},
{"data":{"values":[{"bar":116.9,"price":1.12355}]},
"mark":{"type":"point","shape":"circle","filled":true,"size":30,"color":"#e53935","opacity":1}},
{"data":{"values":[{"bar":119.29,"price":1.11983},{"bar":118.22,"price":1.11983},{"bar":117.16,"price":1.11983},{"bar":116,"price":1.11983}]},
"mark":{"type":"point","shape":"circle","filled":true,"size":420,"fill":"#ffffff","stroke":"#ef5350","strokeWidth":2,"opacity":1}},
{"data":{"values":[{"bar":119.29,"price":1.11983},{"bar":118.22,"price":1.11983},{"bar":117.16,"price":1.11983},{"bar":116,"price":1.11983}]},
"mark":{"type":"point","shape":"M-0.8,-0.12H0.8V0.12H-0.8ZM-0.7,0.35H0.7V0.6H-0.7Z","filled":true,"size":420,"color":"#ef5350","opacity":1}},
{"data":{"values":[{"bar":115.75,"price":1.12012}]},
"mark":{"type":"point","shape":"square","filled":true,"size":60,"color":"#3f6fd8","opacity":1}}
]
},
{
"width":1458,"height":78,
"view":{"fill":"#ffffff"},
"resolve":{"scale":{"color":"independent"}},
"encoding":{
"x":{"field":"bar","type":"quantitative","scale":{"domain":[-10.414,162.13],"nice":false,"zero":false},"axis":null},
"y":{"field":"rsi","type":"quantitative","scale":{"domain":[20,82],"nice":false,"zero":false},
"axis":{"orient":"right","offset":-61,"title":null,"grid":false,"ticks":false,"domainColor":"#50535e","domainWidth":1.5,"labelColor":"#50535e","labelFont":"Roboto","labelFontSize":11,"labelPadding":9,"labelOverlap":false,"labelFlush":false,"format":".2f","values":[75,25]}}
},
"layer":[
{"data":{"name":"rsiEdges"},"mark":{"type":"rule","color":"#e0e3eb","strokeWidth":2},"encoding":{"x2":{"field":"bar2"}}},
{"data":{"name":"rsiBands"},"mark":{"type":"rect","color":"#7e57c2","opacity":0.12},"encoding":{"x2":{"field":"bar2"},"y2":{"field":"rsi2"}}},
{"data":{"name":"rsiLevels"},"mark":{"type":"rule","color":"#787b86","strokeWidth":1,"strokeDash":[6,6]},"encoding":{"x2":{"field":"bar2"}}},
{"data":{"name":"rsiMid"},"mark":{"type":"rule","color":"#787b86","strokeWidth":1,"opacity":0.5,"strokeDash":[6,6]},"encoding":{"x2":{"field":"bar2"}}},
{"data":{"name":"rsiMa"},"mark":{"type":"line","color":"#e4f53a","strokeWidth":1.5,"interpolate":"monotone","clip":true}},
{"data":{"name":"rsi"},"mark":{"type":"line","color":"#a95cc6","strokeWidth":1,"clip":true}},
{"data":{"values":[{"bar":116.04,"rsi":52.4}]},
"mark":{"type":"point","shape":"circle","filled":true,"size":1129,"fill":"#f7c9a0","fillOpacity":0.65,"stroke":"#c2185b","strokeWidth":2.5,"opacity":1}},
{"data":{"values":[{"bar":126.75,"rsi":52.6,"label":"Neutral Bias"}]},
"mark":{"type":"text","align":"center","baseline":"middle","fontSize":19,"font":"Open Sans","color":"#2962ff"},"encoding":{"text":{"field":"label"}}},
{"data":{"name":"rsiTags"},"mark":{"type":"rect","cornerRadius":1},
"encoding":{"x2":{"field":"bar2"},"y2":{"field":"rsi2"},
"color":{"field":"series","type":"nominal","legend":null,"scale":{"domain":["rsi","ma"],"range":["#9c59b6","#e8ff3a"]}}}},
{"data":{"name":"rsiTagText"},"mark":{"type":"text","align":"left","baseline":"middle","fontSize":11,"fontWeight":500,"font":"Roboto"},
"encoding":{"text":{"field":"label"},
"color":{"field":"series","type":"nominal","legend":null,"scale":{"domain":["rsi","ma"],"range":["#ffffff","#131722"]}}}},
{"data":{"name":"rsiText"},"mark":{"type":"text","align":"left","baseline":"middle","fontSize":12,"font":"Roboto"},
"encoding":{"text":{"field":"label"},
"color":{"field":"series","type":"nominal","legend":null,"scale":{"domain":["gray","rsi","ma"],"range":["#50535e","#a95cc6","#e4f53a"]}}}}
]
},
{
"width":1458,"height":90,
"view":{"fill":"#ffffff"},
"resolve":{"scale":{"color":"independent"}},
"encoding":{
"x":{"field":"bar","type":"quantitative","scale":{"domain":[-10.414,162.13],"nice":false,"zero":false},"axis":null},
"y":{"field":"macd","type":"quantitative","scale":{"domain":[-0.00899,0.00762],"nice":false,"zero":false},
"axis":{"orient":"right","offset":-61,"title":null,"grid":false,"ticks":false,"domainColor":"#50535e","domainWidth":1.5,"labels":false}}
},
"layer":[
{"data":{"values":[{"bar":-10.414,"bar2":154.91,"macd":0}]},
"mark":{"type":"rule","color":"#787b86","strokeWidth":1,"opacity":0.5,"strokeDash":[6,6]},"encoding":{"x2":{"field":"bar2"}}},
{"data":{"name":"macd"},"mark":{"type":"rule","strokeWidth":6.5},
"encoding":{"y":{"field":"hist","type":"quantitative","axis":{"orient":"right","offset":-61,"title":null,"grid":false,"ticks":false,"domainColor":"#50535e","domainWidth":1.5,"labels":false}},"y2":{"datum":0},
"color":{"field":"state","type":"nominal","legend":null,"scale":{"domain":["risingAbove","fallingAbove","risingBelow","fallingBelow"],"range":["#26a69a","#b2dfdb","#ffcdd2","#ff5252"]}}}},
{"data":{"name":"macdSignal"},"mark":{"type":"line","color":"#ff6d00","strokeWidth":1,"interpolate":"monotone","clip":true}},
{"data":{"name":"macdLine"},"mark":{"type":"line","color":"#2962ff","strokeWidth":1,"clip":true}},
{"data":{"name":"macdTags"},"mark":{"type":"rect","cornerRadius":1},
"encoding":{"x2":{"field":"bar2"},"y2":{"field":"macd2"},
"color":{"field":"series","type":"nominal","legend":null,"scale":{"domain":["hist","macd","signal"],"range":["#26a69a","#2962ff","#ff6d00"]}}}},
{"data":{"name":"macdTagText"},"mark":{"type":"text","align":"left","baseline":"middle","fontSize":11,"fontWeight":500,"font":"Roboto","color":"#ffffff"},"encoding":{"text":{"field":"label"}}},
{"data":{"name":"macdText"},"mark":{"type":"text","align":"left","baseline":"middle","fontSize":12,"font":"Roboto"},
"encoding":{"text":{"field":"label"},
"color":{"field":"series","type":"nominal","legend":null,"scale":{"domain":["gray","hist","macd","signal"],"range":["#50535e","#26a69a","#2962ff","#ff6d00"]}}}}
]
},
{
"width":1458,"height":28,
"view":{"fill":"#ffffff"},
"data":{"values":[{"bar":154.91}]},
"mark":{"type":"rule","color":"#50535e","strokeWidth":1.5},
"encoding":{
"x":{"field":"bar","type":"quantitative","scale":{"domain":[-10.414,162.13],"nice":false,"zero":false},
"axis":{"orient":"bottom","offset":-28,"title":null,"grid":false,"ticks":false,"domainColor":"#50535e","domainWidth":1.5,"labelColor":"#50535e","labelFont":"Roboto","labelFontSize":12,"labelPadding":8,"labelOverlap":false,"labelFlush":false,
"values":[0,20,42,64,85,107,130,151],
"labelExpr":"['Feb','Mar','Apr','May','Jun','Jul','Aug','Sep'][indexof([0,20,42,64,85,107,130,151],datum.value)]"}}
}
},
{
"width":1458,"height":61,
"encoding":{
"x":{"field":"bar","type":"quantitative","scale":{"domain":[-10.414,162.13],"nice":false,"zero":false},"axis":null},
"y":{"field":"row","type":"quantitative","scale":{"domain":[61,0],"nice":false,"zero":false},"axis":null}
},
"layer":[
{"data":{"values":[{"bar":-8.4,"row":31}]},
"mark":{"type":"point","shape":"M-1,-0.49H0.067V0.45H-0.6V-0.18H-1ZM0.49,-0.49H1L0.6,0.45H0.155ZM0.09,-0.31A0.178,0.178 0 1 0 0.445,-0.31A0.178,0.178 0 1 0 0.09,-0.31Z","filled":true,"size":900,"color":"#e0e0e3","opacity":1}},
{"data":{"values":[{"bar":-5.8,"row":32,"label":"TradingView"}]},
"mark":{"type":"text","align":"left","baseline":"middle","fontSize":20,"fontWeight":600,"font":"Inter","color":"#e0e0e3"},"encoding":{"text":{"field":"label"}}}
]
}
]
}
